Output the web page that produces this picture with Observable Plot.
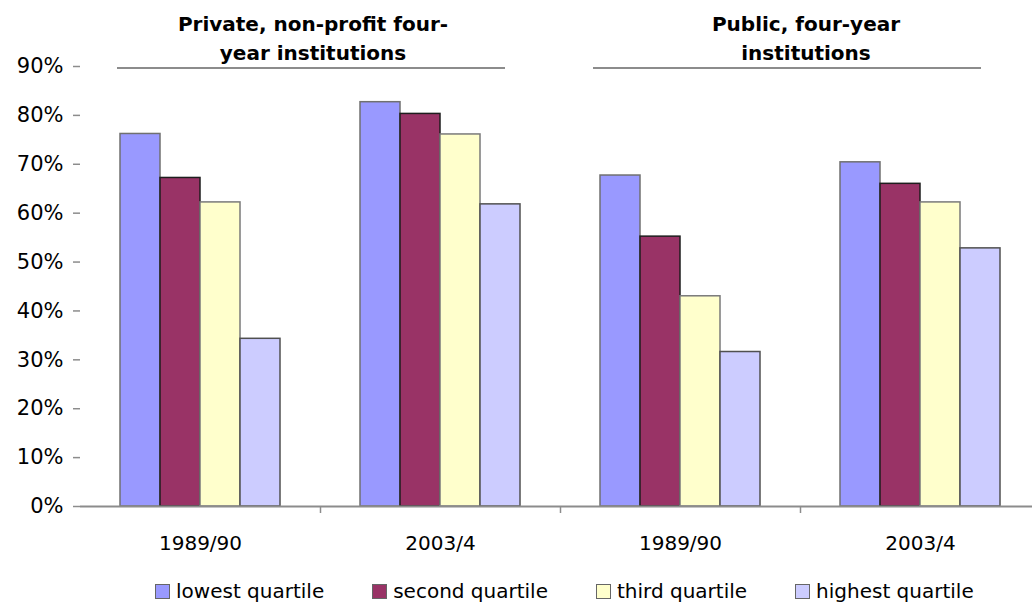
<!DOCTYPE html>
<html>
<head>
<meta charset="utf-8">
<script src="https://cdn.jsdelivr.net/npm/d3@7"></script>
<script src="https://cdn.jsdelivr.net/npm/@observablehq/plot@0.6"></script>
<style>
  html, body { margin: 0; padding: 0; background: #fff; overflow: hidden; }
  body { font-family: "DejaVu Sans", sans-serif; color: #000; }
  #wrap { position: relative; width: 1032px; height: 608px; }
  #chart { position: absolute; left: 0; top: 0; }
  .title { position: absolute; top: 10px; font-weight: bold; font-size: 20px; line-height: 29px; text-align: center; }
  .trule { position: absolute; top: 67px; height: 0; border-top: 2px solid #8c8c8c; }
  #legend { position: absolute; top: 580px; left: 155px; display: flex; gap: 48px; font-size: 20px; line-height: 22px; white-space: nowrap; }
  #legend .item { display: flex; align-items: center; }
  #legend .sw { width: 13px; height: 13px; border: 1px solid #666; margin-right: 6px; box-sizing: content-box; }
</style>
</head>
<body>
<div id="wrap">
  <div id="chart"></div>
  <div id="titles"></div>
  <div id="legend"></div>
</div>
<script>
// ---- data ----
const sectors = ["Private, non-profit four-year institutions", "Public, four-year institutions"];
const years = ["1989/90", "2003/4"];
const quartiles = ["lowest quartile", "second quartile", "third quartile", "highest quartile"];
// values in percent, per group: Private 1989/90, Private 2003/4, Public 1989/90, Public 2003/4
const lowest  = [76.2, 82.7, 67.7, 70.4];
const second  = [67.2, 80.3, 55.2, 66.0];
const third   = [62.2, 76.1, 43.0, 62.2];
const highest = [34.3, 61.8, 31.6, 52.8];
const yTicks = [0, 10, 20, 30, 40, 50, 60, 70, 80, 90];
const fills = ["#9999ff", "#993366", "#ffffcc", "#ccccff"];
const strokes = ["#707070", "#1e1e1e", "#7a7a7a", "#505050"];

const series = [lowest, second, third, highest];
const keys = [];
sectors.forEach(s => years.forEach(y => keys.push(s + "|" + y)));
const rows = [];
keys.forEach((k, gi) => quartiles.forEach((q, qi) => rows.push({key: k, quartile: q, value: series[qi][gi]})));

const chart = Plot.plot({
  width: 1032,
  height: 570,
  marginLeft: 80,
  marginRight: -8,
  marginTop: 66,
  marginBottom: 64,
  style: {fontFamily: "DejaVu Sans", fontSize: "20px", color: "#000", background: "transparent", overflow: "visible"},
  fx: {domain: keys, padding: 0, axis: null, label: null},
  x: {domain: quartiles, paddingInner: 0, paddingOuter: 1, axis: null},
  y: {domain: [0, 90], axis: null},
  color: {domain: quartiles, range: fills},
  marks: [
    ...quartiles.map((q, i) => Plot.barY(rows.filter(r => r.quartile === q), {
      fx: "key", x: "quartile", y: "value", fill: "quartile", stroke: strokes[i], strokeWidth: 1.5
    })),
    Plot.ruleY([0], {stroke: "#8c8c8c", strokeWidth: 2}),
    Plot.axisY({ticks: yTicks, tickFormat: d => d + "%", tickSize: 7, tickPadding: 10, stroke: "#8c8c8c", strokeWidth: 1.5, fill: "#000", fontSize: 21, line: true, label: null}),
    Plot.axisFx({anchor: "bottom", tickSize: 0, tickPadding: 29, tickFormat: k => k.split("|")[1], fill: "#000", label: null}),
    Plot.axisFx({anchor: "bottom", ticks: keys.slice(1), tickSize: 7, dx: -120, tickFormat: () => "", stroke: "#8c8c8c", strokeWidth: 1.5, label: null})
  ]
});
document.getElementById("chart").appendChild(chart);

// ---- titles over the two sector halves ----
const titles = document.getElementById("titles");
const titleBoxes = [
  {left: 170, width: 286, lineLeft: 117, lineWidth: 388},
  {left: 698, width: 216, lineLeft: 593, lineWidth: 388}
];
sectors.forEach((s, i) => {
  const t = document.createElement("div");
  t.className = "title";
  t.style.left = titleBoxes[i].left + "px";
  t.style.width = titleBoxes[i].width + "px";
  t.textContent = s;
  titles.appendChild(t);
  const r = document.createElement("div");
  r.className = "trule";
  r.style.left = titleBoxes[i].lineLeft + "px";
  r.style.width = titleBoxes[i].lineWidth + "px";
  titles.appendChild(r);
});

// ---- legend ----
const legend = document.getElementById("legend");
quartiles.forEach((q, i) => {
  const it = document.createElement("div");
  it.className = "item";
  const sw = document.createElement("span");
  sw.className = "sw";
  sw.style.background = fills[i];
  const tx = document.createElement("span");
  tx.textContent = q;
  it.appendChild(sw);
  it.appendChild(tx);
  legend.appendChild(it);
});
</script>
</body>
</html>
